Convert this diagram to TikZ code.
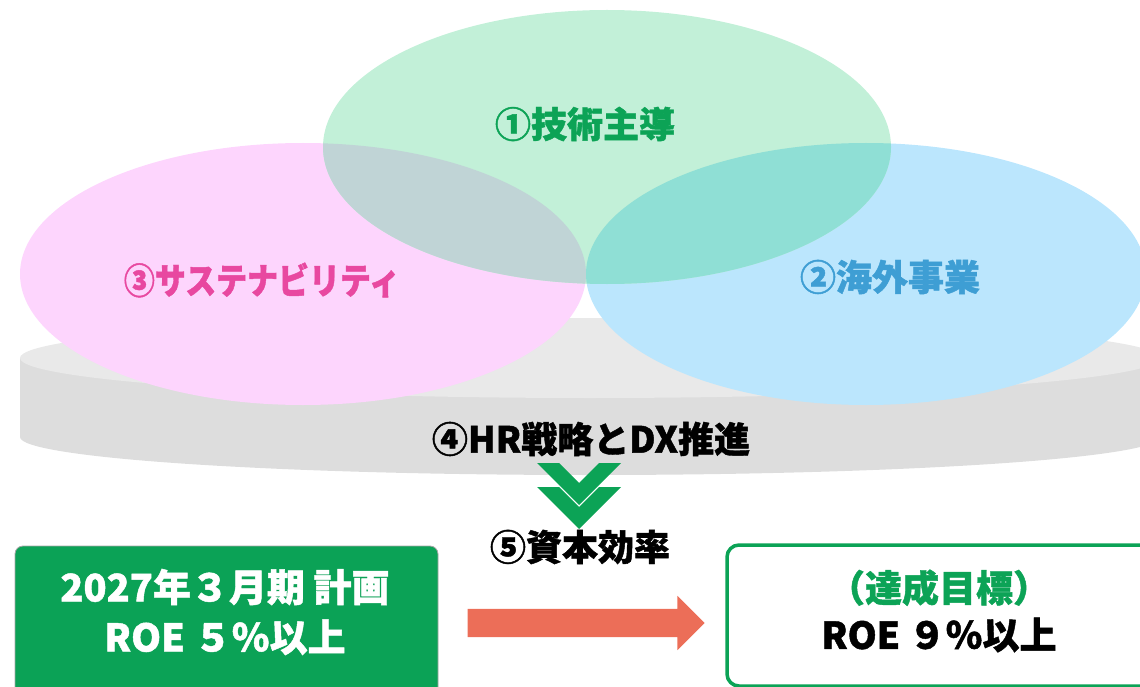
\documentclass[tikz,border=0pt]{standalone}
\usepackage{fontspec}
\setmainfont{Noto Sans CJK JP}[BoldFeatures={FakeBold=1.2}]
\usetikzlibrary{shapes.arrows,positioning}
\definecolor{techfill}{RGB}{194,240,216}
\definecolor{susfill}{RGB}{253,213,253}
\definecolor{globfill}{RGB}{187,230,253}
\definecolor{techsus}{RGB}{192,212,214}
\definecolor{techglob}{RGB}{143,223,213}
\definecolor{basetop}{RGB}{233,233,233}
\definecolor{baseside}{RGB}{221,221,221}
\definecolor{techgreen}{RGB}{12,163,86}
\definecolor{suspink}{RGB}{232,72,160}
\definecolor{globblue}{RGB}{62,158,212}
\definecolor{planfill}{RGB}{11,162,86}
\definecolor{gainred}{RGB}{236,110,88}

\begin{document}
\begin{tikzpicture}[x=1pt, y=1pt,
    pillar/.style={font=\bfseries\fontsize{36}{40}\selectfont, inner sep=0pt},
    boxtext/.style={font=\bfseries\fontsize{38}{50}\selectfont, align=center, inner sep=0pt},
    chevron/.style={fill=techgreen, draw=none},
    planbox/.style={fill=planfill, draw=gray!70, thick, rounded corners=8pt,
        minimum width=423pt, minimum height=154pt, inner sep=0pt},
    goalbox/.style={fill=white, draw=techgreen, line width=3.5pt, rounded corners=12pt,
        minimum width=432pt, minimum height=141pt, inner sep=0pt},
    gain/.style={single arrow, fill=gainred, draw=none, inner xsep=0pt, inner ysep=14pt,
        minimum height=237pt, single arrow head extend=13pt}
]
    \useasboundingbox (0,0) rectangle (1140,-687);
    \def\techarea{(607,-147) ellipse [x radius=284pt, y radius=137pt]}
    \def\susarea{(303,-274) ellipse [x radius=283pt, y radius=131pt]}
    \def\globarea{(866,-274) ellipse [x radius=280pt, y radius=131pt]}
    % base
    \fill[baseside] (20,-358) -- (20,-437)
        arc[start angle=180, end angle=360, x radius=570pt, y radius=38pt]
        -- (1160,-358) -- cycle;
    \fill[basetop] (590,-358) ellipse [x radius=570pt, y radius=40pt];
    % circles
    \fill[susfill] \susarea;
    \fill[globfill] \globarea;
    \fill[techfill] \techarea;
    \begin{scope}
        \clip \techarea;
        \fill[techsus] \susarea;
        \fill[techglob] \globarea;
    \end{scope}
    \node[pillar, techgreen] (tech) at (585,-124) {①技術主導};
    \node[pillar, suspink] (sus) at (262,-280) {\scalebox{0.86}[1]{③サステナビリティ}};
    \node[pillar, globblue] (glob) at (890,-277) {②海外事業};
    \node[pillar] (hrdx) at (591,-439) {④HR戦略とDX推進};
    % chevrons
    \foreach \top in {463,487}
        \fill[chevron] (537,-\top) -- (559,-\top) -- (579,{-\top-20})
            -- (599,-\top) -- (621,-\top) -- (579,{-\top-42}) -- cycle;
    \node[pillar] (capital) at (580,-547) {⑤資本効率};
    % boxes
    \node[planbox] (plan) at (226.5,-623) {};
    \node[boxtext, white] (plantext) at (225,-612) {2027年３月期 計画\\ROE ５％以上};
    \node[gain, right=29pt of plan] (gain) {};
    \node[goalbox] (goal) at (943,-615.5) {};
    \node[boxtext, font=\bfseries\fontsize{37}{47}\selectfont] (goaltext) at (939,-611)
        {\textcolor{techgreen}{（達成目標）}\\ROE ９％以上};
\end{tikzpicture}
\end{document}
